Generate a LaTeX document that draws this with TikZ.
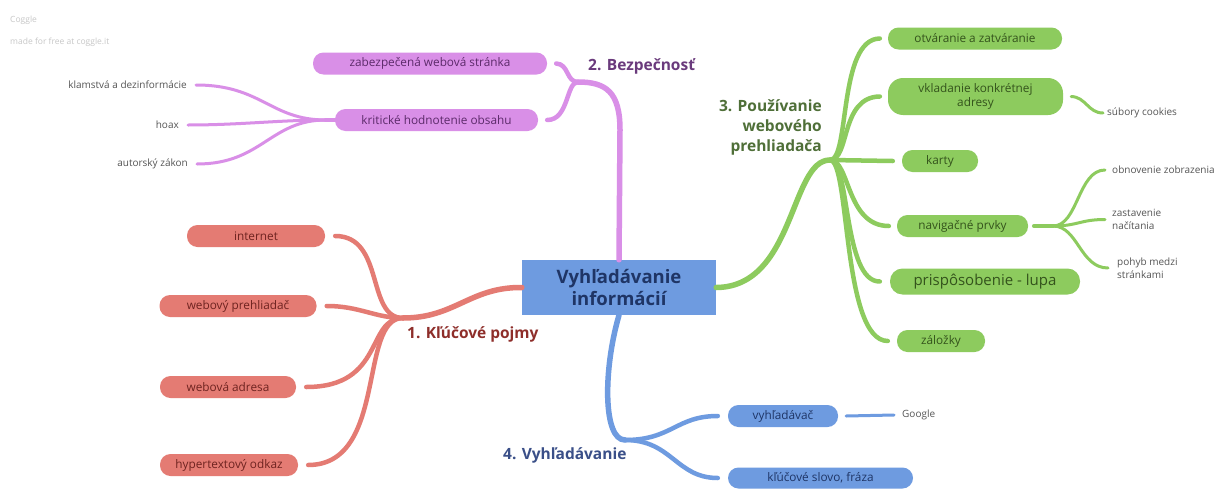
\documentclass[tikz,border=0pt]{standalone}
\usepackage{fontspec}
\setmainfont{Open Sans}
\definecolor{redc}{HTML}{E47B73}
\definecolor{redt}{HTML}{6E2320}
\definecolor{redl}{HTML}{8E2E2A}
\definecolor{vioc}{HTML}{D98FE7}
\definecolor{viot}{HTML}{5C2A6A}
\definecolor{viol}{HTML}{6A3A7C}
\definecolor{grec}{HTML}{8DCB5E}
\definecolor{gret}{HTML}{34531C}
\definecolor{grel}{HTML}{4F6F38}
\definecolor{bluc}{HTML}{6E9BE0}
\definecolor{blut}{HTML}{1F3566}
\definecolor{blul}{HTML}{3A4F88}
\definecolor{leaft}{HTML}{555555}
\begin{document}
\begin{tikzpicture}[x=1pt,y=-1pt,
  pill/.style={rounded corners=10.5pt, minimum height=22pt, inner sep=0pt, align=center,
    font=\fontsize{11.8}{13.5}\selectfont},
  redpill/.style={pill, fill=redc, text=redt},
  viopill/.style={pill, fill=vioc, text=viot},
  grepill/.style={pill, fill=grec, text=gret},
  blupill/.style={pill, fill=bluc, text=blut},
  blabel/.style={font=\bfseries\fontsize{15.5}{20}\selectfont, inner sep=0pt},
  leaf/.style={font=\fontsize{10}{12.5}\selectfont, text=leaft, inner sep=0pt, align=left},
  conn/.style={line width=4.5pt, line cap=round},
  mainconn/.style={line width=5.5pt, line cap=round},
  leafconn/.style={line width=3pt, line cap=round},
  wm/.style={font=\fontsize{8.5}{9}\selectfont, text=black!22, inner sep=0pt, anchor=west}
]
\useasboundingbox (0,0) rectangle (1216,490);
\fill[white] (0,0) rectangle (1216,490);

% watermark
\node[wm] (wm1) at (10,20) {Coggle};
\node[wm] (wm2) at (10,42) {made for free at coggle.it};

% central node
\node[fill=bluc, minimum width=194pt, minimum height=55pt, inner sep=0pt, align=center,
  text=blut, font=\bfseries\fontsize{18.5}{22}\selectfont] (C) at (619,287.5) {Vyhľadávanie\\informácií};

% ---------- branch 1 (red)
\coordinate (J1) at (403,318);
\node[redpill, minimum width=138pt] (int) at (256,236) {internet};
\node[redpill, minimum width=157pt] (web) at (238,306) {webový prehliadač};
\node[redpill, minimum width=136pt] (adr) at (228,387) {webová adresa};
\node[redpill, minimum width=138pt] (hyp) at (229,465) {hypertextový odkaz};
\node[blabel, text=redl, anchor=west] (L1) at (407,334) {1. Kľúčové pojmy};
\draw[mainconn, redc] (C.west) .. controls (470,287) and (455,318) .. (J1);
\draw[conn, redc] (J1) .. controls (366,318) and (385,236) .. ([xshift=10pt]int.east);
\draw[conn, redc] (J1) .. controls (375,318) and (360,306) .. ([xshift=10pt]web.east);
\draw[conn, redc] (J1) .. controls (366,318) and (385,387) .. ([xshift=10pt]adr.east);
\draw[conn, redc] (J1) .. controls (358,318) and (388,465) .. ([xshift=10pt]hyp.east);

% ---------- branch 2 (violet)
\coordinate (J2) at (578,82);
\coordinate (J2b) at (326,120);
\node[viopill, minimum width=234pt] (zab) at (430,63.5) {zabezpečená webová stránka};
\node[viopill, minimum width=203pt] (kri) at (436.5,120) {kritické hodnotenie obsahu};
\node[blabel, text=viol, anchor=west] (L2) at (588,66) {2. Bezpečnosť};
\node[leaf, anchor=east] (kla) at (187,85) {klamstvá a dezinformácie};
\node[leaf, anchor=east] (hoa) at (179,125) {hoax};
\node[leaf, anchor=east] (aut) at (188,164) {autorský zákon};
\draw[mainconn, vioc] (C.north) -- (620,130) .. controls (620,92) and (606,82) .. (J2);
\draw[conn, vioc] (J2) .. controls (566,82) and (569,64) .. ([xshift=9pt]zab.east);
\draw[conn, vioc] (J2) .. controls (566,82) and (569,120) .. ([xshift=9pt]kri.east);
\draw[conn, vioc] (kri.west) -- (J2b);
\draw[leafconn, vioc] (J2b) .. controls (270,120) and (262,85) .. ([xshift=9pt]kla.east);
\draw[leafconn, vioc] (J2b) .. controls (280,120) and (240,125) .. ([xshift=9pt]hoa.east);
\draw[leafconn, vioc] (J2b) .. controls (270,120) and (262,164) .. ([xshift=9pt]aut.east);

% ---------- branch 3 (green)
\coordinate (J3) at (830,160);
\coordinate (J3b) at (1053,226);
\node[grepill, minimum width=174pt] (otv) at (975,38.5) {otváranie a zatváranie};
\node[grepill, minimum width=175pt, minimum height=37pt, rounded corners=15pt] (vkl) at (975.5,96.5) {vkladanie konkrétnej\\adresy};
\node[grepill, minimum width=76pt] (kar) at (940,161) {karty};
\node[grepill, minimum width=131pt] (nav) at (962.5,226) {navigačné prvky};
\node[grepill, minimum width=190pt, minimum height=26pt, rounded corners=12.5pt,
  font=\fontsize{15}{17}\selectfont] (pri) at (985,281.5) {prispôsobenie - lupa};
\node[grepill, minimum width=88pt] (zal) at (941,341) {záložky};
\node[blabel, text=grel, anchor=east, align=right] (L3) at (822,127) {3. Používanie\\webového\\prehliadača};
\node[leaf, anchor=west] (coo) at (1107,113) {súbory cookies};
\node[leaf, anchor=west] (obn) at (1112,170) {obnovenie zobrazenia};
\node[leaf, anchor=west] (zas) at (1112,219.5) {zastavenie\\načítania};
\node[leaf, anchor=west] (poh) at (1117,268) {pohyb medzi\\stránkami};
\draw[mainconn, grec] (C.east) .. controls (795,287) and (790,160) .. (J3);
\draw[conn, grec] (J3) .. controls (850,160) and (838,39) .. ([xshift=-8pt]otv.west);
\draw[conn, grec] (J3) .. controls (850,160) and (840,97) .. ([xshift=-8pt]vkl.west);
\draw[conn, grec] (J3) -- ([xshift=-9pt]kar.west);
\draw[conn, grec] (J3) .. controls (850,160) and (846,226) .. ([xshift=-8pt]nav.west);
\draw[conn, grec] (J3) .. controls (850,160) and (843,282) .. ([xshift=-10pt]pri.west);
\draw[conn, grec] (J3) .. controls (850,160) and (842,341) .. ([xshift=-9pt]zal.west);
\draw[leafconn, grec] ([xshift=8pt]vkl.east) .. controls (1086,97) and (1088,113) .. ([xshift=-4pt]coo.west);
\draw[conn, grec] ([xshift=6pt]nav.east) -- (J3b);
\draw[leafconn, grec] (J3b) .. controls (1078,226) and (1078,170) .. ([xshift=-7pt]obn.west);
\draw[leafconn, grec] (J3b) .. controls (1078,226) and (1080,219.5) .. ([xshift=-7pt]zas.west);
\draw[leafconn, grec] (J3b) .. controls (1078,226) and (1080,268) .. ([xshift=-9pt]poh.west);

% ---------- branch 4 (blue)
\coordinate (J4) at (625,440);
\node[blupill, minimum width=110pt] (vyh) at (783,416) {vyhľadávač};
\node[blupill, minimum width=185pt, minimum height=21pt] (klu) at (820.5,478) {kľúčové slovo, fráza};
\node[blabel, text=blul, anchor=west] (L4) at (503,455) {4. Vyhľadávanie};
\node[leaf, anchor=west] (goo) at (902,415) {Google};
\draw[mainconn, bluc] (C.south) .. controls (603,370) and (603,440) .. (J4);
\draw[conn, bluc] (J4) .. controls (672,440) and (676,416) .. ([xshift=-10pt]vyh.west);
\draw[conn, bluc] (J4) .. controls (672,440) and (676,478) .. ([xshift=-10pt]klu.west);
\draw[leafconn, bluc] ([xshift=8pt]vyh.east) -- ([xshift=-8pt]goo.west);
\end{tikzpicture}
\end{document}
